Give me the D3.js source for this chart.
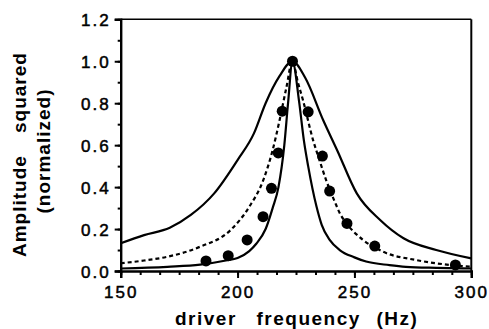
<!DOCTYPE html>
<html><head><meta charset="utf-8">
<script src="https://cdn.jsdelivr.net/npm/d3@7"></script>
<style>
html,body{margin:0;padding:0;background:#fff;}
svg{display:block;}
text{font-family:"Liberation Sans",Arial,Helvetica,sans-serif;fill:#000;}
</style></head>
<body><svg id="c" width="489" height="329"></svg>
<script>
// ---- data ----
const xTicks = [150, 200, 250, 300];
const yTicks = [0.0, 0.2, 0.4, 0.6, 0.8, 1.0, 1.2];
const yTickLabels = ["0.0", "0.2", "0.4", "0.6", "0.8", "1.0", "1.2"];

const dotFreq = [186.5, 196, 204.1, 210.9, 214.5, 217.4, 219.1, 223.5, 230.2, 236.3, 239.4, 246.8, 258.7, 293.2];
const dotAmp  = [0.048, 0.073, 0.148, 0.259, 0.394, 0.563, 0.762, 1.0, 0.759, 0.548, 0.381, 0.227, 0.119, 0.029];

const wideFreq = [150, 160, 171, 180, 190, 200, 207, 212, 218, 223.5, 229, 236.6, 242.6, 251, 261, 271, 285, 300];
const wideAmp  = [0.132, 0.171, 0.206, 0.267, 0.37, 0.529, 0.656, 0.80, 0.93, 1.0, 0.92, 0.72, 0.576, 0.37, 0.243, 0.156, 0.10, 0.06];

const dashFreq = [150, 160, 170, 184, 197, 205, 211, 215, 218, 220.8, 223.5, 225.8, 228, 232.3, 235, 238, 241.6, 244, 246.6, 253.7, 262.2, 276.5, 290.7, 300];
const dashAmp  = [0.037, 0.05, 0.068, 0.116, 0.195, 0.306, 0.433, 0.576, 0.72, 0.87, 1.0, 0.90, 0.814, 0.624, 0.53, 0.43, 0.33, 0.27, 0.227, 0.148, 0.092, 0.052, 0.029, 0.02];

const narrowFreq = [150, 170, 184, 195, 200, 205, 208, 212, 215, 217.5, 220, 221.6, 223.5, 226.3, 228.4, 230.2, 233.8, 236, 239.4, 243.7, 250, 255, 265, 272, 285, 300];
const narrowAmp  = [0.012, 0.02, 0.03, 0.05, 0.062, 0.095, 0.13, 0.2, 0.3, 0.4, 0.6, 0.8, 1.0, 0.81, 0.62, 0.5, 0.306, 0.22, 0.148, 0.10, 0.065, 0.045, 0.028, 0.02, 0.015, 0.012];

// ---- layout ----
const L = 120.7, R = 471.3, T = 19.3, B = 271;
const svg = d3.select("#c");
const x = d3.scaleLinear().domain([150, 300]).range([L, R]);
const y = d3.scaleLinear().domain([0, 1.2]).range([B, T]);

// frame (top + right)
svg.append("line").attr("x1", L).attr("x2", R).attr("y1", T).attr("y2", T)
  .attr("stroke", "#000").attr("stroke-width", 1.6);
svg.append("line").attr("x1", R).attr("x2", R).attr("y1", T).attr("y2", B)
  .attr("stroke", "#000").attr("stroke-width", 2);

// y axis
const yMinor = d3.range(0, 1.2001, 0.1);
const yAxis = d3.axisLeft(y).tickValues(yTicks).tickFormat((d, i) => yTickLabels[i]).tickSize(6).tickPadding(4);
const gy = svg.append("g").attr("transform", `translate(${L},0)`).call(yAxis);
gy.selectAll("line").attr("stroke-width", 2);
svg.append("g").attr("transform", `translate(${L},0)`)
  .call(d3.axisLeft(y).tickValues(yMinor).tickSize(3).tickFormat(""))
  .call(g => g.select(".domain").remove())
  .selectAll("line").attr("stroke-width", 2);

// x axis
const xMinor = d3.range(0, 19).map(i => 150 + i * 50 / 6);
const xAxis = d3.axisBottom(x).tickValues(xTicks).tickFormat(d3.format("d")).tickSize(7).tickPadding(4);
const gx = svg.append("g").attr("transform", `translate(0,${B})`).call(xAxis);
gx.selectAll("line").attr("stroke-width", 2);
svg.append("g").attr("transform", `translate(0,${B})`)
  .call(d3.axisBottom(x).tickValues(xMinor).tickSize(4).tickFormat(""))
  .call(g => g.select(".domain").remove())
  .selectAll("line").attr("stroke-width", 2);

[gx, gy].forEach(g => {
  g.select(".domain").attr("stroke-width", 2.4);
  g.selectAll("text").style("font-size", "17px").style("letter-spacing", "2px")
    .attr("fill", "#000").attr("stroke", "#000").attr("stroke-width", 0.5);
});
gx.selectAll("text").attr("dy", "0.95em");
gy.selectAll("text").attr("dy", "0.36em");

// curves
const line = d3.line().x(d => x(d[0])).y(d => y(d[1])).curve(d3.curveMonotoneX);
const zip = (a, b) => a.map((v, i) => [v, b[i]]);
svg.append("path").datum(zip(wideFreq, wideAmp)).attr("d", line)
  .attr("fill", "none").attr("stroke", "#000").attr("stroke-width", 2.2);
svg.append("path").datum(zip(narrowFreq, narrowAmp)).attr("d", line)
  .attr("fill", "none").attr("stroke", "#000").attr("stroke-width", 2.2);
svg.append("path").datum(zip(dashFreq, dashAmp)).attr("d", line)
  .attr("fill", "none").attr("stroke", "#000").attr("stroke-width", 2.2)
  .attr("stroke-dasharray", "4,3");

// data points
svg.append("g").selectAll("circle").data(zip(dotFreq, dotAmp)).join("circle")
  .attr("cx", d => x(d[0])).attr("cy", d => y(d[1])).attr("r", 5.5).attr("fill", "#000");

// axis titles
const xt = svg.append("text").attr("y", 325).style("font-size", "19px").style("font-weight", "bold").style("letter-spacing", "1.5px");
xt.append("tspan").attr("x", 175).text("driver");
xt.append("tspan").attr("x", 256.5).text("frequency");
xt.append("tspan").attr("x", 376.5).text("(Hz)");

const yt = svg.append("g").attr("transform", "rotate(-90)");
const y1 = yt.append("text").attr("y", 25.5).style("font-size", "19px").style("font-weight", "bold").style("letter-spacing", "1px");
y1.append("tspan").attr("x", -257).text("Amplitude");
y1.append("tspan").attr("x", -133).text("squared");
yt.append("text").attr("y", 49.5).attr("x", -151).attr("text-anchor", "middle")
  .style("font-size", "19px").style("font-weight", "bold").style("letter-spacing", "1px").text("(normalized)");
</script></body></html>
